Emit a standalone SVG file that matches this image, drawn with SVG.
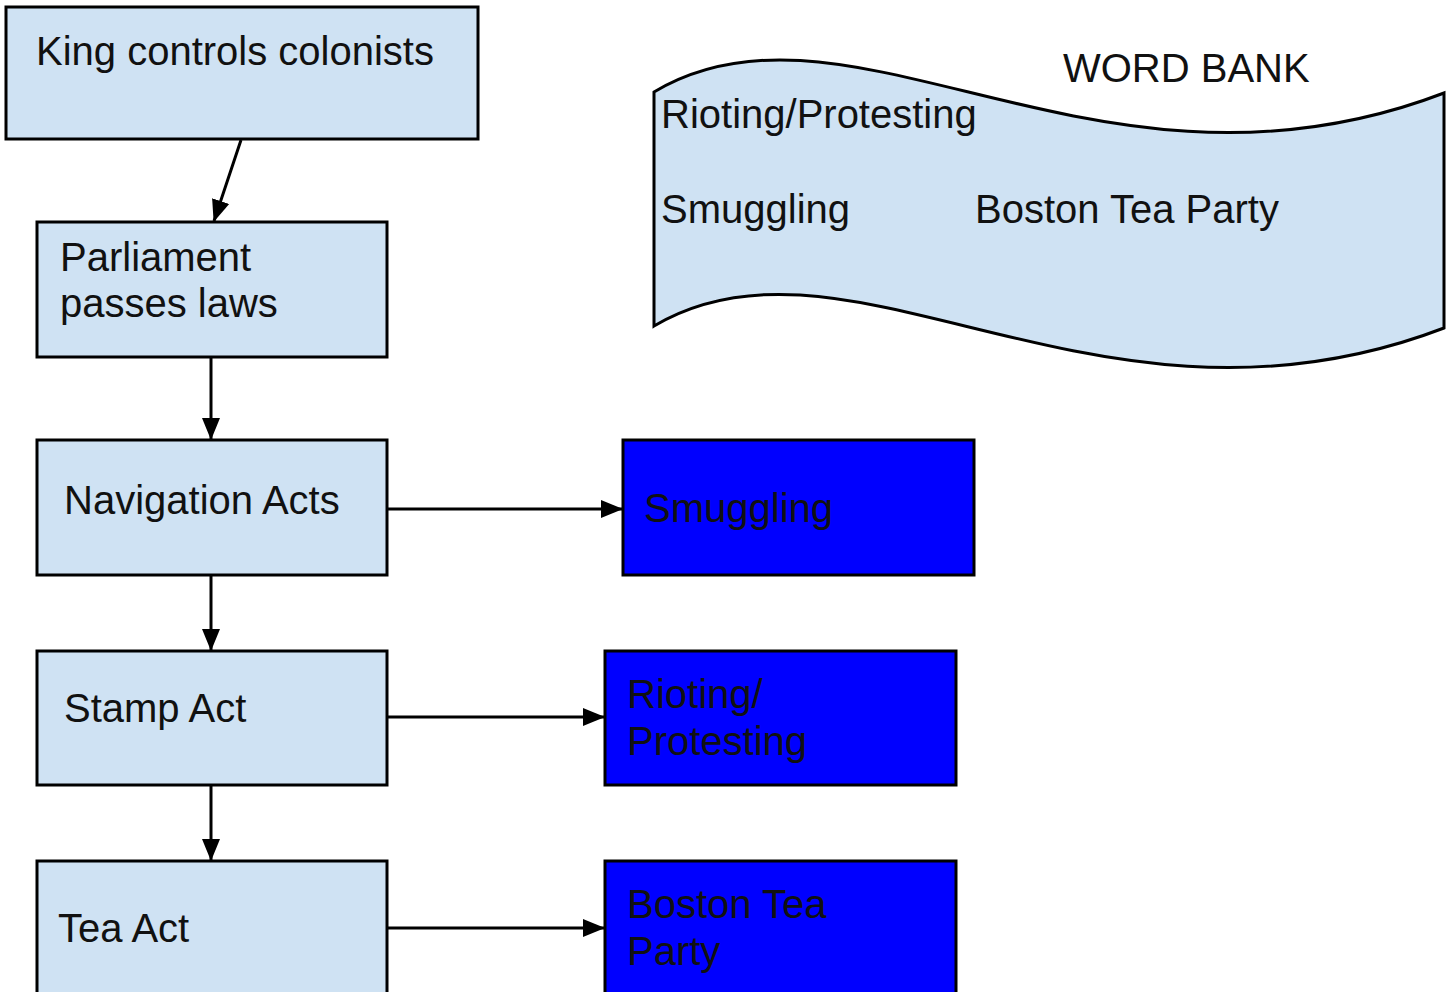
<svg xmlns="http://www.w3.org/2000/svg" width="1454" height="992" viewBox="0 0 1454 992">
<style>
.box{fill:#cfe2f3;stroke:#000;stroke-width:3}
.blue{fill:#0000ff;stroke:#000;stroke-width:3}
.t{font-family:"Liberation Sans",Arial,sans-serif;font-size:40px;fill:#111}
.c{stroke:#000;stroke-width:3;fill:none}
</style>
<defs>
<marker id="ah" markerUnits="userSpaceOnUse" markerWidth="22" markerHeight="20" refX="21" refY="10" orient="auto">
<path d="M0,1 L22,10 L0,19 z" fill="#000"/>
</marker>
</defs>
<rect width="1454" height="992" fill="#fff"/>
<g id="wordbank">
<path class="box" d="M654,92 C850,-25 1100,225 1444,93 L1444,328 C1100,460 850,210 654,326 Z"/>
<text class="t" x="1063" y="82">WORD BANK</text>
<text class="t" x="661" y="128">Rioting/Protesting</text>
<text class="t" x="661" y="223">Smuggling</text>
<text class="t" x="975" y="223">Boston Tea Party</text>
</g>
<g id="king">
<rect class="box" x="6" y="7" width="472" height="132"/>
<text class="t" x="36" y="65">King controls colonists</text>
</g>
<g id="parliament">
<rect class="box" x="37" y="222" width="350" height="135"/>
<text class="t" x="60" y="271">Parliament</text>
<text class="t" x="60" y="317">passes laws</text>
</g>
<g id="navigation">
<rect class="box" x="37" y="440" width="350" height="135"/>
<text class="t" x="64" y="514">Navigation Acts</text>
</g>
<g id="stamp">
<rect class="box" x="37" y="651" width="350" height="134"/>
<text class="t" x="64" y="722">Stamp Act</text>
</g>
<g id="tea">
<rect class="box" x="37" y="861" width="350" height="140"/>
<text class="t" x="58" y="942">Tea Act</text>
</g>
<g id="smuggling">
<rect class="blue" x="623" y="440" width="351" height="135"/>
<text class="t" x="644" y="522">Smuggling</text>
</g>
<g id="rioting">
<rect class="blue" x="605" y="651" width="351" height="134"/>
<text class="t" x="627" y="708">Rioting/</text>
<text class="t" x="627" y="755">Protesting</text>
</g>
<g id="boston">
<rect class="blue" x="605" y="861" width="351" height="140"/>
<text class="t" x="627" y="918">Boston Tea</text>
<text class="t" x="627" y="965">Party</text>
</g>
<g id="connectors">
<line class="c" x1="241" y1="140" x2="214" y2="221" marker-end="url(#ah)"/>
<line class="c" x1="211" y1="358" x2="211" y2="439" marker-end="url(#ah)"/>
<line class="c" x1="211" y1="576" x2="211" y2="650" marker-end="url(#ah)"/>
<line class="c" x1="211" y1="786" x2="211" y2="860" marker-end="url(#ah)"/>
<line class="c" x1="388" y1="509" x2="622" y2="509" marker-end="url(#ah)"/>
<line class="c" x1="388" y1="717" x2="604" y2="717" marker-end="url(#ah)"/>
<line class="c" x1="388" y1="928" x2="604" y2="928" marker-end="url(#ah)"/>
</g>
</svg>
